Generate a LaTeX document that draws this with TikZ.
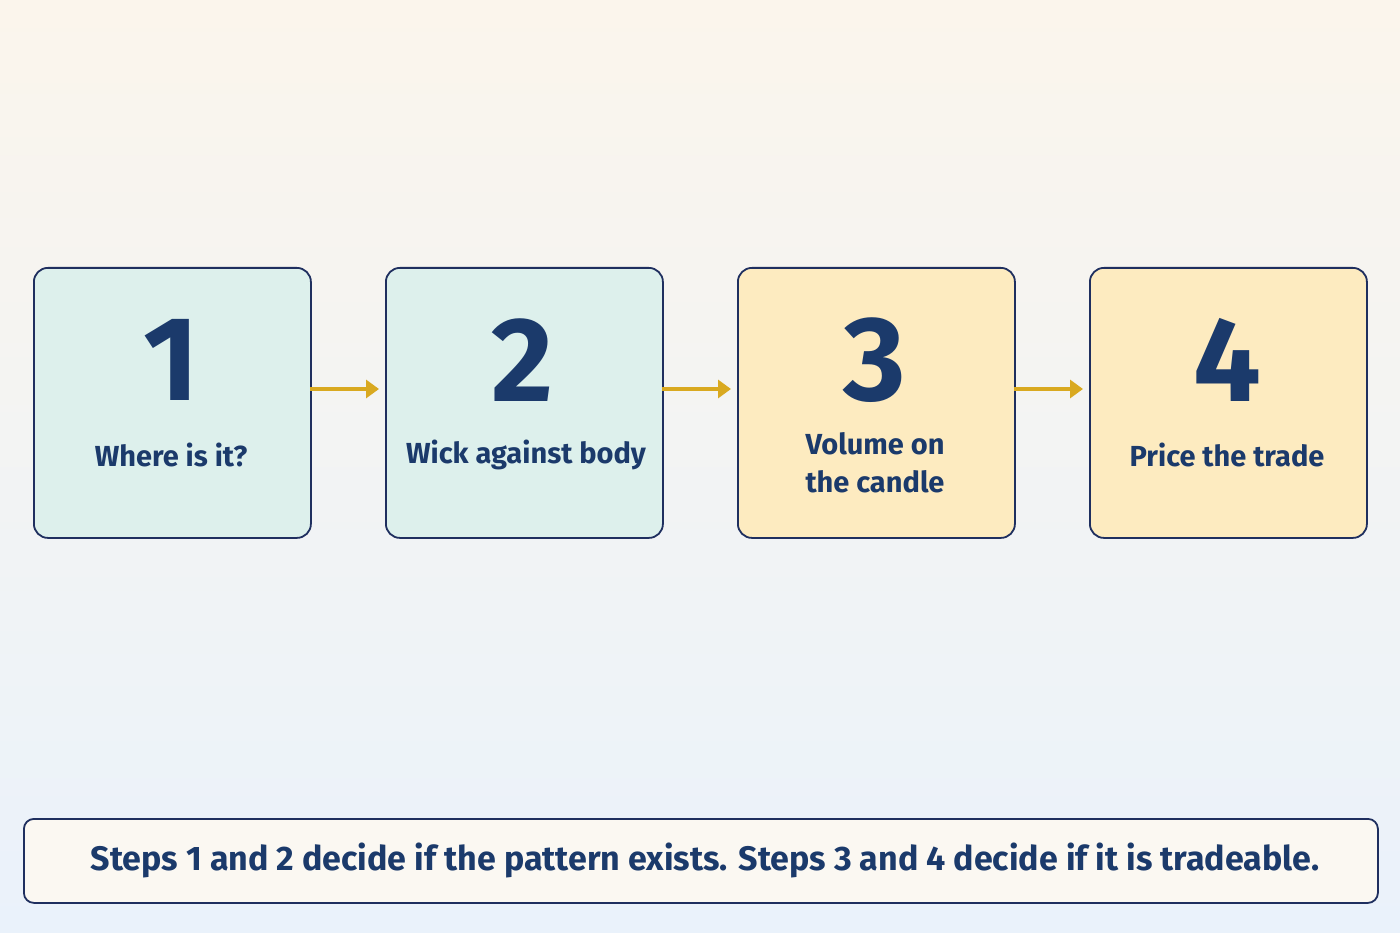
\documentclass[tikz,border=0pt]{standalone}
\usepackage{fontspec}
\setmainfont{Fira Sans}
\usetikzlibrary{arrows.meta}
\definecolor{navy}{HTML}{1B3A6B}
\definecolor{edge}{HTML}{1F2F5F}
\definecolor{teal}{HTML}{DDF0EC}
\definecolor{sand}{HTML}{FDEBC0}
\definecolor{gold}{HTML}{D9A920}
\begin{document}
\begin{tikzpicture}[x=1pt,y=-1pt,
  stepbox/.style={draw=edge,line width=1.8pt,rounded corners=14pt,minimum width=277pt,minimum height=270pt,anchor=north west},
  num/.style={text=navy,font=\fontsize{120}{120}\selectfont\bfseries},
  lbl/.style={text=navy,font=\fontsize{29}{38}\selectfont\bfseries,align=center},
  arr/.style={draw=gold,line width=3.5pt,-{Triangle[length=13pt,width=18pt]}}]
\useasboundingbox (0,0) rectangle (1400,933);
\shade[top color={rgb,255:red,251;green,245;blue,236},bottom color={rgb,255:red,234;green,242;blue,251}] (0,0) rectangle (1400,933);
\node[stepbox,fill=teal] (b1) at (33,267) {};
\node[stepbox,fill=teal] (b2) at (385,267) {};
\node[stepbox,fill=sand] (b3) at (737,267) {};
\node[stepbox,fill=sand] (b4) at (1089,267) {};
\node[num] (n1) at (171,360) {1};
\node[num] (n2) at (523,360) {2};
\node[num] (n3) at (875,360) {3};
\node[num] (n4) at (1227,360) {4};
\node[lbl] (l1) at (171,455) {Where is it?};
\node[lbl] (l2) at (526,455) {Wick against body};
\node[lbl] (l3) at (875,463) {Volume on\\the candle};
\node[lbl] (l4) at (1227,455) {Price the trade};
\coordinate (a1) at (310,389); \coordinate (t1) at (379,389);
\coordinate (a2) at (662,389); \coordinate (t2) at (731,389);
\coordinate (a3) at (1014,389); \coordinate (t3) at (1083,389);
\draw[arr] (a1) -- (t1);
\draw[arr] (a2) -- (t2);
\draw[arr] (a3) -- (t3);
\node[draw=edge,line width=1.8pt,rounded corners=10pt,fill={rgb,255:red,251;green,248;blue,242},minimum width=1354pt,minimum height=84pt,anchor=north west] (note) at (23,818) {};
\node[text=navy,font=\fontsize{34}{40}\selectfont\bfseries] (nt) at (705,860) {Steps 1 and 2 decide if the pattern exists. Steps 3 and 4 decide if it is tradeable.};
\end{tikzpicture}
\end{document}
